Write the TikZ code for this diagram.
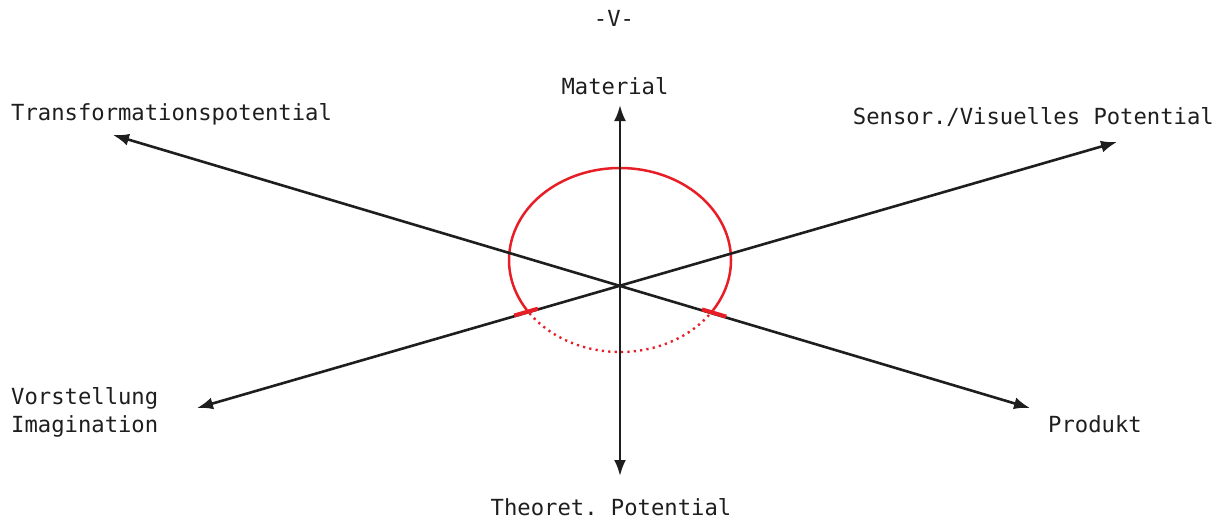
\documentclass[tikz,border=0pt]{standalone}
\usepackage{fontspec}
\setmonofont{DejaVu Sans Mono}
\usetikzlibrary{arrows.meta,calc}
\definecolor{axisblack}{RGB}{30,30,30}
\definecolor{curvered}{RGB}{232,30,38}
\begin{document}
\begin{tikzpicture}[x=1pt,y=-1pt,
  axisline/.style={line width=2.6pt, draw=axisblack, {Latex[length=16pt,width=12pt]}-{Latex[length=16pt,width=12pt]}},
  lbl/.style={font=\ttfamily\fontsize{22.2}{28}\selectfont, inner sep=0pt, text=axisblack},
  redsolid/.style={draw=curvered, line width=2.5pt},
  reddot/.style={draw=curvered, line width=2.4pt, dash pattern=on 2.2pt off 4.2pt},
  redtick/.style={draw=curvered, line width=4pt}]
\useasboundingbox (0,0) rectangle (1222,519);
% centre and axis end points
\coordinate (o) at (620,286);
\coordinate (top) at (620,105);
\coordinate (bot) at (620,476);
\coordinate (tl) at (113,135);
\coordinate (br) at (1030,408);
\coordinate (bl) at (197,408);
\coordinate (tr) at (1117,142);
% red curve
\coordinate (ec) at (620,260);
\draw[redsolid] ($(ec)+(147:111 and 92)$) arc[start angle=147, end angle=393, x radius=111, y radius=92];
\draw[reddot] ($(ec)+(33:111 and 92)$) arc[start angle=33, end angle=147, x radius=111, y radius=92];
% axes
\draw[axisline] (top) -- (bot);
\draw[axisline] (tl) -- (br);
\draw[axisline] (bl) -- (tr);
% ticks along the axes
\coordinate (lt1) at ($(o)!0.194!(bl)+(0,-1)$);
\coordinate (lt2) at ($(o)!0.25!(bl)+(0,-1)$);
\coordinate (rt1) at ($(o)!0.2!(br)+(0,-1)$);
\coordinate (rt2) at ($(o)!0.259!(br)+(0,-1)$);
\draw[redtick] (lt1) -- (lt2);
\draw[redtick] (rt1) -- (rt2);
% labels
\node[lbl, anchor=base] (v) at (614,27) {-V-};
\node[lbl, anchor=base] (mat) at (615,94) {Material};
\node[lbl, anchor=base west] (trans) at (11,120) {Transformationspotential};
\node[lbl, anchor=base east] (sens) at (1214,124) {Sensor./Visuelles Potential};
\node[lbl, anchor=base west, align=left] (vor) at (11,432) {Vorstellung\\Imagination};
\node[lbl, anchor=base west] (prod) at (1048,432) {Produkt};
\node[lbl, anchor=base] (theo) at (611,515) {Theoret. Potential};
\end{tikzpicture}
\end{document}
